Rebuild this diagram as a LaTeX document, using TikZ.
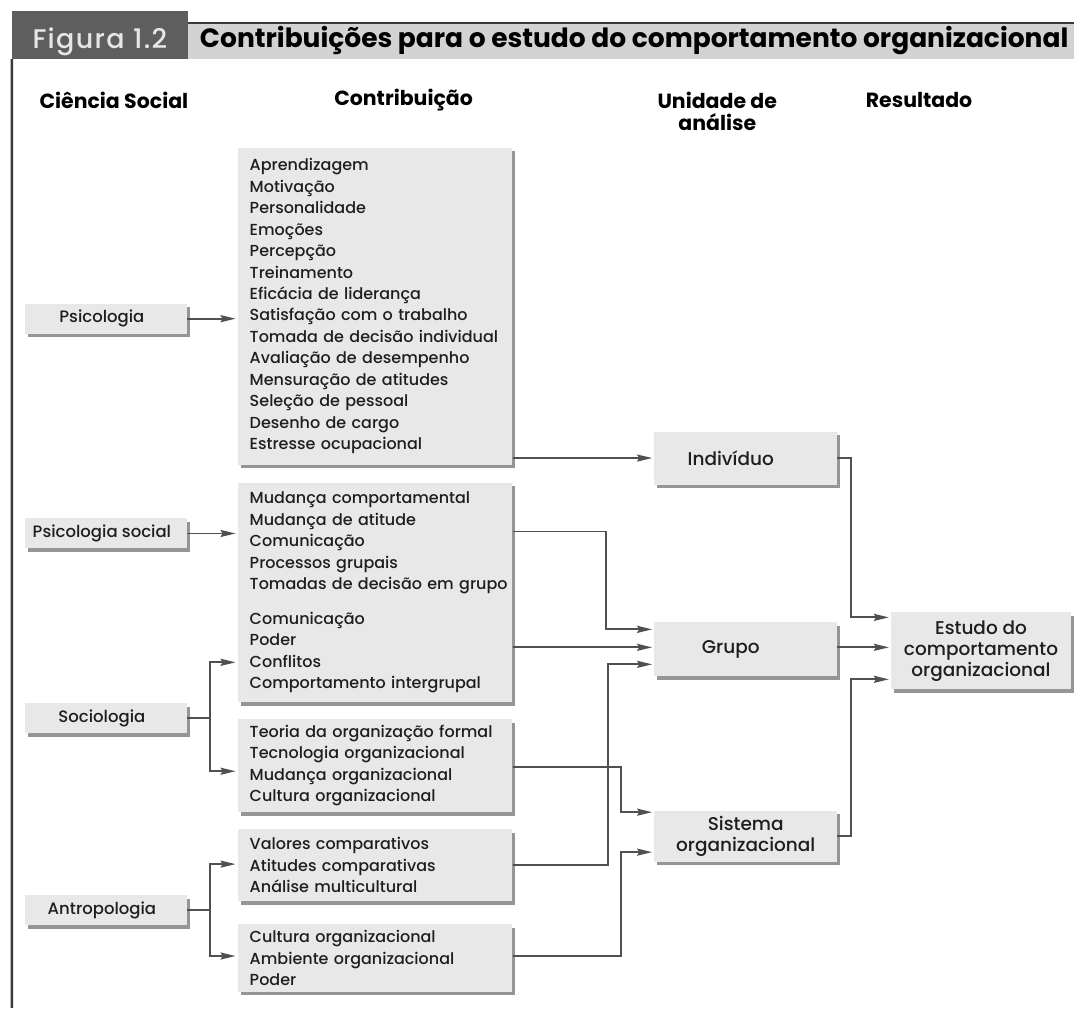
\documentclass[tikz,border=0pt]{standalone}
\usepackage{fontspec}
\setmainfont{Poppins}[UprightFont=* Medium, BoldFont=* Bold]
\usetikzlibrary{arrows.meta,shadows}
\definecolor{boxfill}{HTML}{E8E8E8}
\definecolor{linecol}{HTML}{505050}
\definecolor{shadowcol}{HTML}{8A8A8A}
\definecolor{figdark}{HTML}{5E5E5E}
\definecolor{figtext}{HTML}{E6E6E6}
\definecolor{titlebar}{HTML}{D3D3D3}
\definecolor{framecol}{HTML}{3A3A3A}
\definecolor{txt}{HTML}{1E1E1E}
\begin{document}
\begin{tikzpicture}[x=1pt,y=-1pt,
  box/.style={fill=boxfill, text=txt, drop shadow={shadow xshift=3pt, shadow yshift=-3.5pt, fill=shadowcol, opacity=0.9}, inner sep=0pt},
  sbox/.style={box, minimum width=162pt, minimum height=30pt, font=\fontsize{16.5}{20}\selectfont},
  cbox/.style={box, minimum width=275pt, text width=251pt, align=left, font=\fontsize{16}{21.5}\selectfont},
  ubox/.style={box, minimum width=183pt, align=center, font=\fontsize{18.5}{21}\selectfont},
  hdr/.style={font=\bfseries\fontsize{20.5}{22}\selectfont, align=center, inner sep=0pt},
  arr/.style={draw=linecol, line width=1.8pt, shorten >=2pt, -{Stealth[length=15pt,width=7pt,inset=2pt]}},
  ln/.style={draw=linecol, line width=1.8pt},
]
\fill[white] (0,0) rectangle (1075,1009);
% header
\fill[titlebar] (188,23) rectangle (1075,59);
\draw[framecol, line width=2.2pt] (188,23) -- (1075,23);
\node[fill=figdark, text=figtext, minimum width=176pt, minimum height=48pt, inner sep=0pt,
      font=\fontsize{27}{30}\selectfont\addfontfeatures{LetterSpace=5}] (fig) at (100,35) {\raisebox{-14pt}[0pt][0pt]{Figura 1.2}};
\node[anchor=west, inner sep=0pt, font=\bfseries\fontsize{26.5}{30}\selectfont] (title) at (200,41)
  {Contribuições para o estudo do comportamento organizacional};
\draw[framecol, line width=2.5pt] (fig.south west) -- (12,1009);

% column headers
\node[hdr] (h1) at (114,100) {Ciência Social};
\node[hdr] (h2) at (404,100) {Contribuição};
\node[hdr] (h3) at (718,111) {Unidade de\\análise};
\node[hdr] (h4) at (920,100) {Resultado};

% social sciences
\node[sbox] (psi)    at (106,319) {Psicologia\hspace*{8pt}};
\node[sbox] (psisoc) at (106,534) {Psicologia social\hspace*{8pt}};
\node[sbox] (soc)    at (106,719) {Sociologia\hspace*{8pt}};
\node[sbox] (antro)  at (106,911) {Antropologia\hspace*{8pt}};

% contributions
\node[cbox, minimum height=317pt] (c1) at (375.5,306.5) {Aprendizagem\\Motivação\\Personalidade\\Emoções\\Percepção\\Treinamento\\Eficácia de liderança\\Satisfação com o trabalho\\Tomada de decisão individual\\Avaliação de desempenho\\Mensuração de atitudes\\Seleção de pessoal\\Desenho de cargo\\Estresse ocupacional};
\node[cbox, minimum height=220pt] (c2) at (375.5,593) {Mudança comportamental\\Mudança de atitude\\Comunicação\\Processos grupais\\\mbox{Tomadas de decisão em grupo}\\[13pt]Comunicação\\Poder\\Conflitos\\Comportamento intergrupal};
\node[cbox, minimum height=93pt] (c3) at (375.5,766.5) {Teoria da organização formal\\Tecnologia organizacional\\Mudança organizacional\\Cultura organizacional};
\node[cbox, minimum height=72pt] (c4) at (375.5,866) {Valores comparativos\\Atitudes comparativas\\Análise multicultural};
\node[cbox, minimum height=68pt] (c5) at (375.5,959) {Cultura organizacional\\Ambiente organizacional\\Poder};

% units of analysis
\node[ubox, minimum height=53pt] (ind) at (746.5,458.5) {Indivíduo\hspace*{30pt}};
\node[ubox, minimum height=54pt] (grp) at (746.5,650) {Grupo\hspace*{30pt}};
\node[ubox, minimum height=51pt] (sis) at (746.5,837) {Sistema\\organizacional};

% result
\node[ubox, minimum width=180pt, minimum height=77pt] (est) at (982,651.5) {Estudo do\\comportamento\\organizacional};

% junction coordinates
\coordinate (socj) at (210,719);
\coordinate (antj) at (210,911);

% connectors
\draw[arr] (psi.east) -- (c1.west |- psi.east);
\draw[arr] (psisoc.east) -- (c2.west |- psisoc.east);
\draw[ln] (soc.east) -- (socj);
\draw[arr] (socj) |- (c2.west |- 0,663);
\draw[arr] (socj) |- (c3.west |- 0,772);
\draw[ln] (antro.east) -- (antj);
\draw[arr] (antj) |- (c4.west |- 0,865);
\draw[arr] (antj) |- (c5.west |- 0,957);

\draw[arr] (c1.east |- ind.west) -- (ind.west);
\draw[arr] (c2.east |- 0,532) -| (607,630) -- (grp.west |- 0,630);
\draw[arr] (c2.east |- 0,648) -- (grp.west |- 0,648);
\draw[arr] (c4.east |- 0,866) -| (609,665) -- (grp.west |- 0,665);
\draw[arr] (c3.east |- 0,768) -| (622,813) -- (sis.west |- 0,813);
\draw[arr] (c5.east |- 0,957) -| (622,853) -- (sis.west |- 0,853);

\draw[arr] (ind.east) -| (852,618) -- (est.west |- 0,618);
\draw[arr] (grp.east |- 0,648) -- (est.west |- 0,648);
\draw[arr] (sis.east) -| (852,680) -- (est.west |- 0,680);
\end{tikzpicture}
\end{document}
